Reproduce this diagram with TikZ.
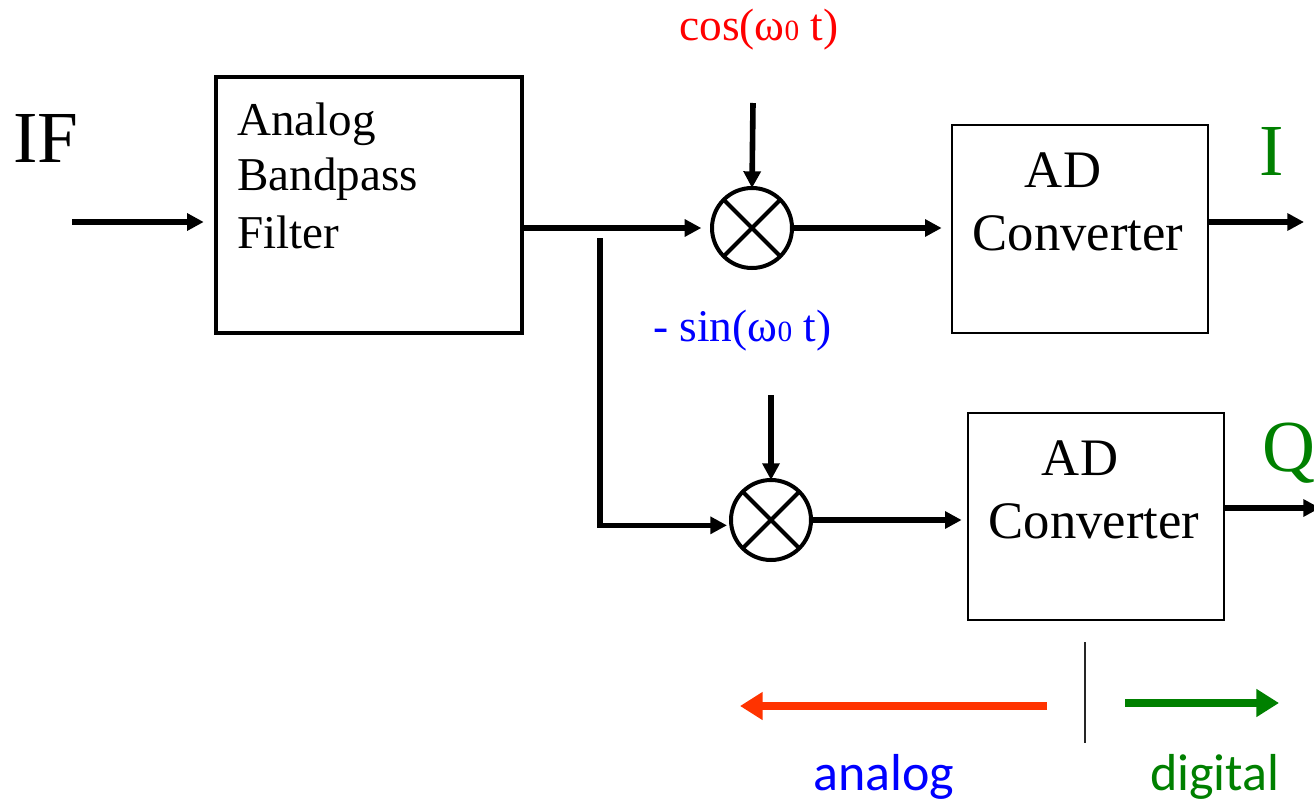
\documentclass[tikz,border=0pt]{standalone}
\usepackage{fontspec}
\setmainfont{Liberation Serif}
\newfontfamily\calibri{Carlito}
\usetikzlibrary{arrows.meta,calc}
\definecolor{dgreen}{RGB}{0,128,0}
\definecolor{orred}{RGB}{255,51,0}
\definecolor{pblue}{RGB}{0,0,255}
\begin{document}
\begin{tikzpicture}[x=0.75pt,y=-0.75pt,
  arr/.style={line width=4.2pt,-{Triangle[length=12.5pt,width=12.5pt]}},
  adbox/.style={draw,line width=1.5pt,minimum width=192pt,minimum height=155.5pt,inner sep=0},
  mixer/.style={draw,circle,line width=3pt,minimum size=60pt,inner sep=0,outer sep=0},
  ftxt/.style={font=\fontsize{35.3pt}{42pt}\selectfont,inner sep=0},
  adtxt/.style={font=\fontsize{39.5pt}{47pt}\selectfont,inner sep=0},
  big/.style={font=\fontsize{55pt}{60pt}\selectfont,inner sep=0},
  osc/.style={font=\fontsize{34pt}{40pt}\selectfont,inner sep=0},
  sub/.style={},
  sans/.style={font=\calibri\fontsize{39pt}{45pt}\selectfont,inner sep=0}]
\useasboundingbox (0,0) rectangle (1314,803);

% input
\node[big,anchor=base west] (iflbl) at (13,162) {IF};
\coordinate (ifin) at (72,222);

% bandpass filter
\node[draw,line width=2.4pt,minimum width=229.5pt,minimum height=192pt,inner sep=0] (bpf) at (369,205) {};
\node[ftxt,anchor=base west] (t1) at (237,135) {Analog};
\node[ftxt,anchor=base west] (t2) at (237,190) {Bandpass};
\node[ftxt,anchor=base west] (t3) at (237,248) {Filter};

% mixers
\node[mixer] (m1) at (752,228) {};
\node[mixer] (m2) at (771,520) {};
\draw[line width=3pt] (m1.north east) -- (m1.south west) (m1.north west) -- (m1.south east);
\draw[line width=3pt] (m2.north east) -- (m2.south west) (m2.north west) -- (m2.south east);

% oscillator labels
\node[osc,anchor=base west,text=red] (cosl) at (679,40) {cos(ω{\fontsize{22pt}{26pt}\selectfont 0} t)};
\node[osc,anchor=base west,text=pblue] (sinl) at (653,341) {- sin(ω{\fontsize{22pt}{26pt}\selectfont 0} t)};
\coordinate (c1) at (753,103);
\coordinate (c2) at (771,395);

% AD converters
\node[adbox] (ad1) at (1080,229) {};
\node[adtxt,anchor=base] (ad1a) at (1063,187) {AD};
\node[adtxt,anchor=base] (ad1b) at (1078,250) {Converter};
\node[adbox] (ad2) at (1096,516.5) {};
\node[adtxt,anchor=base] (ad2a) at (1080,475) {AD};
\node[adtxt,anchor=base] (ad2b) at (1094,538) {Converter};

% outputs
\node[big,anchor=base,text=dgreen] (ilbl) at (1272,175) {I};
\node[big,anchor=base west,text=dgreen] (qlbl) at (1262,471) {Q};
\coordinate (iout) at (1304,222);
\coordinate (qout) at (1320,508);
\coordinate (br) at (600,238);

% connectors
\draw[arr,shorten >=8pt] (ifin) -- (ifin -| bpf.west);
\draw[arr,shorten >=8pt] (bpf.east |- m1.west) -- (m1.west);
\draw[arr,shorten >=3pt] (br) |- ([yshift=-4pt]m2.west);
\draw[arr] (c1) -- (m1.north);
\draw[arr] (c2) -- (m2.north);
\draw[arr,shorten >=7pt] (m1.east) -- (m1.east -| ad1.west);
\draw[arr,shorten >=4pt] (m2.east) -- (m2.east -| ad2.west);
\draw[arr] (ad1.east |- iout) -- (iout);
\draw[arr] (ad2.east |- qout) -- (qout);

% analog / digital
\coordinate (dtop) at (1085,642);
\coordinate (dbot) at (1085,743);
\draw[line width=1.5pt,black!85] (dtop) -- (dbot);
\coordinate (ra) at (1047,706);
\coordinate (rb) at (740,706);
\coordinate (ga) at (1125,703);
\coordinate (gb) at (1279,703);
\draw[line width=6pt,orred,-{Triangle[length=17pt,width=20pt]}] (ra) -- (rb);
\draw[line width=6pt,dgreen,-{Triangle[length=17pt,width=20pt]}] (ga) -- (gb);
\node[sans,anchor=base west,text=pblue] (anl) at (813,790) {analog};
\node[sans,anchor=base west,text=dgreen] (dil) at (1150,790) {digital};
\end{tikzpicture}
\end{document}
